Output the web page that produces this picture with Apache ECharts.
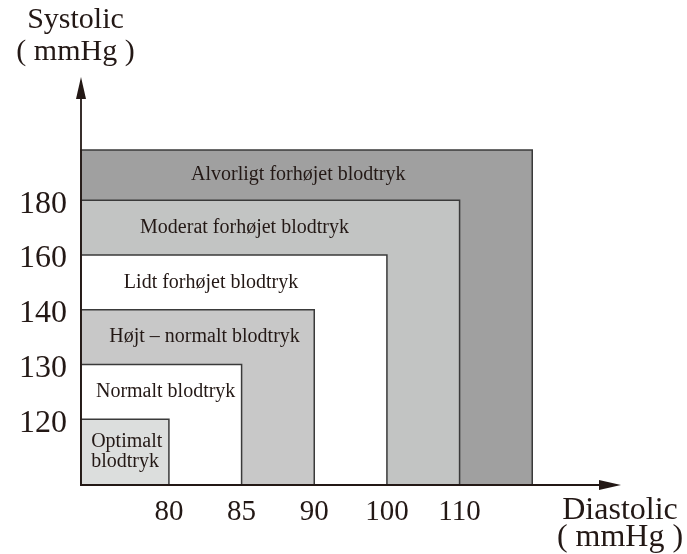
<!DOCTYPE html>
<html>
<head>
<meta charset="utf-8">
<script src="https://cdn.jsdelivr.net/npm/echarts@6/dist/echarts.min.js"></script>
<style>
  html, body { margin: 0; padding: 0; background: #ffffff; }
  #chart { width: 687px; height: 554px; }
</style>
</head>
<body>
<div id="chart"></div>
<script>
// Blood pressure classes: each class covers readings up to its diastolic / systolic limit
const categories = [
  'Optimalt\nblodtryk',
  'Normalt blodtryk',
  'Højt – normalt blodtryk',
  'Lidt forhøjet blodtryk',
  'Moderat forhøjet blodtryk',
  'Alvorligt forhøjet blodtryk'
];
const diastolicLimits = [80, 85, 90, 100, 110, null]; // null: open-ended class
const systolicLimits = [120, 130, 140, 160, 180, null];
const diastolicTicks = [80, 85, 90, 100, 110];
const systolicTicks = [120, 130, 140, 160, 180];

// Styling of the nested bands (innermost first)
const bandColors = ['#dcdedd', '#ffffff', '#c8c8c8', '#ffffff', '#c2c4c3', '#a0a0a0'];

// Both axes are ordinal: each tick sits one unit further out than the previous one
const X_MIN = -1.21, X_MAX = 6.07;
const Y_MIN = -1.2, Y_MAX = 6.05;
const OPEN_X = 5;     // outer edge of the open-ended class
const OPEN_Y = 4.92;
// horizontal label anchors, in axis units
const labelAnchorX = [-1.07, -0.045, 0.49, 0.58, 1.04, 1.78];

const xPos = v => (v == null ? OPEN_X : diastolicTicks.indexOf(v));
const yPos = v => (v == null ? OPEN_Y : systolicTicks.indexOf(v));

// Outermost class first so the inner ones are drawn on top
const bandData = categories.map((name, i) => [
  i,
  xPos(diastolicLimits[i]),
  yPos(systolicLimits[i]),
  i > 0 ? yPos(systolicLimits[i - 1]) : Y_MIN
]).reverse();

const TEXT = '#231815';
const SERIF = '"Liberation Serif", "Times New Roman", serif';

function renderBand(params, api) {
  const i = api.value(0);
  const origin = api.coord([X_MIN, Y_MIN]);
  const corner = api.coord([api.value(1), api.value(2)]);
  const inner = api.coord([X_MIN, api.value(3)]);
  const anchor = api.coord([labelAnchorX[i], Y_MIN]);
  return {
    type: 'group',
    children: [
      {
        type: 'rect',
        shape: {
          x: origin[0],
          y: corner[1],
          width: corner[0] - origin[0],
          height: origin[1] - corner[1]
        },
        style: { fill: bandColors[i], stroke: '#3a3a3a', lineWidth: 1.5 }
      },
      {
        type: 'text',
        x: anchor[0],
        y: (corner[1] + inner[1]) / 2,
        style: {
          text: categories[i],
          fill: TEXT,
          font: '20px ' + SERIF,
          align: i === 0 ? 'left' : 'center',
          verticalAlign: 'middle',
          lineHeight: 20
        }
      }
    ]
  };
}

const chart = echarts.init(document.getElementById('chart'), null, { renderer: 'canvas' });

const axisLine = {
  show: true,
  onZero: false,
  symbol: ['none', 'triangle'],
  symbolSize: [10, 22],
  lineStyle: { color: TEXT, width: 1.8 }
};

chart.setOption({
  animation: false,
  backgroundColor: '#ffffff',
  grid: { left: 81, right: 77, top: 88, bottom: 69, containLabel: false, outerBoundsMode: 'none' },
  xAxis: {
    type: 'value',
    min: X_MIN,
    max: X_MAX,
    z: 5,
    axisLine: axisLine,
    axisTick: { show: false },
    splitLine: { show: false },
    axisLabel: {
      customValues: diastolicTicks.map((v, i) => i),
      formatter: v => String(diastolicTicks[Math.round(v)]),
      fontFamily: SERIF,
      fontSize: 29,
      color: TEXT,
      margin: 13
    },
    name: 'Diastolic\n( mmHg )',
    nameLocation: 'end',
    nameGap: 10,
    nameMoveOverlap: false,
    nameTextStyle: {
      fontFamily: SERIF,
      fontSize: 32,
      color: TEXT,
      align: 'center',
      verticalAlign: 'top',
      lineHeight: 27,
      padding: [12, 0, 0, 0]
    }
  },
  yAxis: {
    type: 'value',
    min: Y_MIN,
    max: Y_MAX,
    z: 5,
    axisLine: axisLine,
    axisTick: { show: false },
    splitLine: { show: false },
    axisLabel: {
      customValues: systolicTicks.map((v, i) => i),
      formatter: v => String(systolicTicks[Math.round(v)]),
      fontFamily: SERIF,
      fontSize: 32,
      color: TEXT,
      margin: 14,
      verticalAlign: 'top',
      lineHeight: 8
    },
    name: 'Systolic\n( mmHg )',
    nameLocation: 'end',
    nameGap: 20,
    nameMoveOverlap: false,
    nameTextStyle: {
      fontFamily: SERIF,
      fontSize: 30,
      color: TEXT,
      align: 'center',
      verticalAlign: 'bottom',
      lineHeight: 32,
      padding: [0, 11, 0, 0]
    }
  },
  series: [{
    type: 'custom',
    renderItem: renderBand,
    data: bandData,
    silent: true,
    clip: false
  }]
});
</script>
</body>
</html>
